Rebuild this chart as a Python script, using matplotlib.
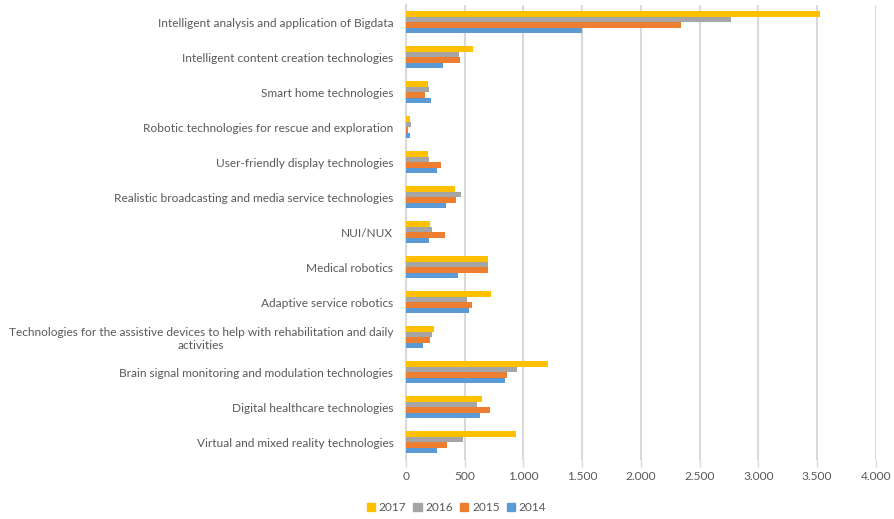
import matplotlib.pyplot as plt
import numpy as np
from matplotlib.ticker import FuncFormatter
from matplotlib.patches import Patch

# technology categories, listed top to bottom
categories = [
    "Intelligent analysis and application of Bigdata",
    "Intelligent content creation technologies",
    "Smart home technologies",
    "Robotic technologies for rescue and exploration",
    "User-friendly display technologies",
    "Realistic broadcasting and media service technologies",
    "NUI/NUX",
    "Medical robotics",
    "Adaptive service robotics",
    "Technologies for the assistive devices to help with rehabilitation and daily\nactivities",
    "Brain signal monitoring and modulation technologies",
    "Digital healthcare technologies",
    "Virtual and mixed reality technologies",
]

y2017 = [3522, 569, 185, 34, 185, 418, 208, 702, 722, 236, 1205, 645, 935]
y2016 = [2769, 449, 199, 40, 193, 466, 219, 697, 520, 219, 944, 606, 483]
y2015 = [2345, 461, 162, 20, 299, 429, 335, 694, 560, 205, 856, 716, 350]
y2014 = [1498, 313, 210, 37, 267, 341, 193, 444, 540, 148, 847, 631, 267]

years = ["2017", "2016", "2015", "2014"]
series = [y2017, y2016, y2015, y2014]
colors = ["#FFC000", "#A5A5A5", "#ED7D31", "#5B9BD5"]

txt = "#595959"
plt.rcParams['font.family'] = ['Lato', 'DejaVu Sans']

fig = plt.figure(figsize=(8.95, 5.19), dpi=100)
ax = fig.add_axes([0.4536, 0.1146, 0.5251, 0.8767])

n = len(categories)
pos = np.arange(n)
bh = 0.157
for i, (vals, c) in enumerate(zip(series, colors)):
    off = (i - 1.5) * bh
    ax.barh(pos + off, vals, height=bh, color=c, zorder=3)

ax.set_ylim(n - 0.5, -0.5)
ax.set_xlim(0, 4000)
ax.set_xticks(np.arange(0, 4001, 500))
ax.xaxis.set_major_formatter(FuncFormatter(lambda v, p: f"{int(v):,}".replace(",", ".")))
ax.set_yticks(pos)
ax.set_yticklabels(categories, multialignment='center')

ax.grid(axis='x', color='#D9D9D9', lw=1.5, zorder=0)
for s in ['top', 'right', 'bottom']:
    ax.spines[s].set_visible(False)
ax.spines['left'].set_color('#D9D9D9')
ax.spines['left'].set_linewidth(1.5)

ax.tick_params(axis='y', length=0, pad=9, labelsize=8.6, labelcolor=txt)
ax.tick_params(axis='x', length=5, width=1, color='#D9D9D9', pad=3,
               labelsize=8.6, labelcolor=txt)

handles = [Patch(color=c, label=y) for y, c in zip(years, colors)]
fig.legend(handles=handles, loc='center', bbox_to_anchor=(0.51, 0.022), ncol=4,
           frameon=False, fontsize=8.6, labelcolor=txt, handlelength=0.7,
           handleheight=0.7, handletextpad=0.3, columnspacing=0.6)

fig.savefig("out.png", dpi=100)
